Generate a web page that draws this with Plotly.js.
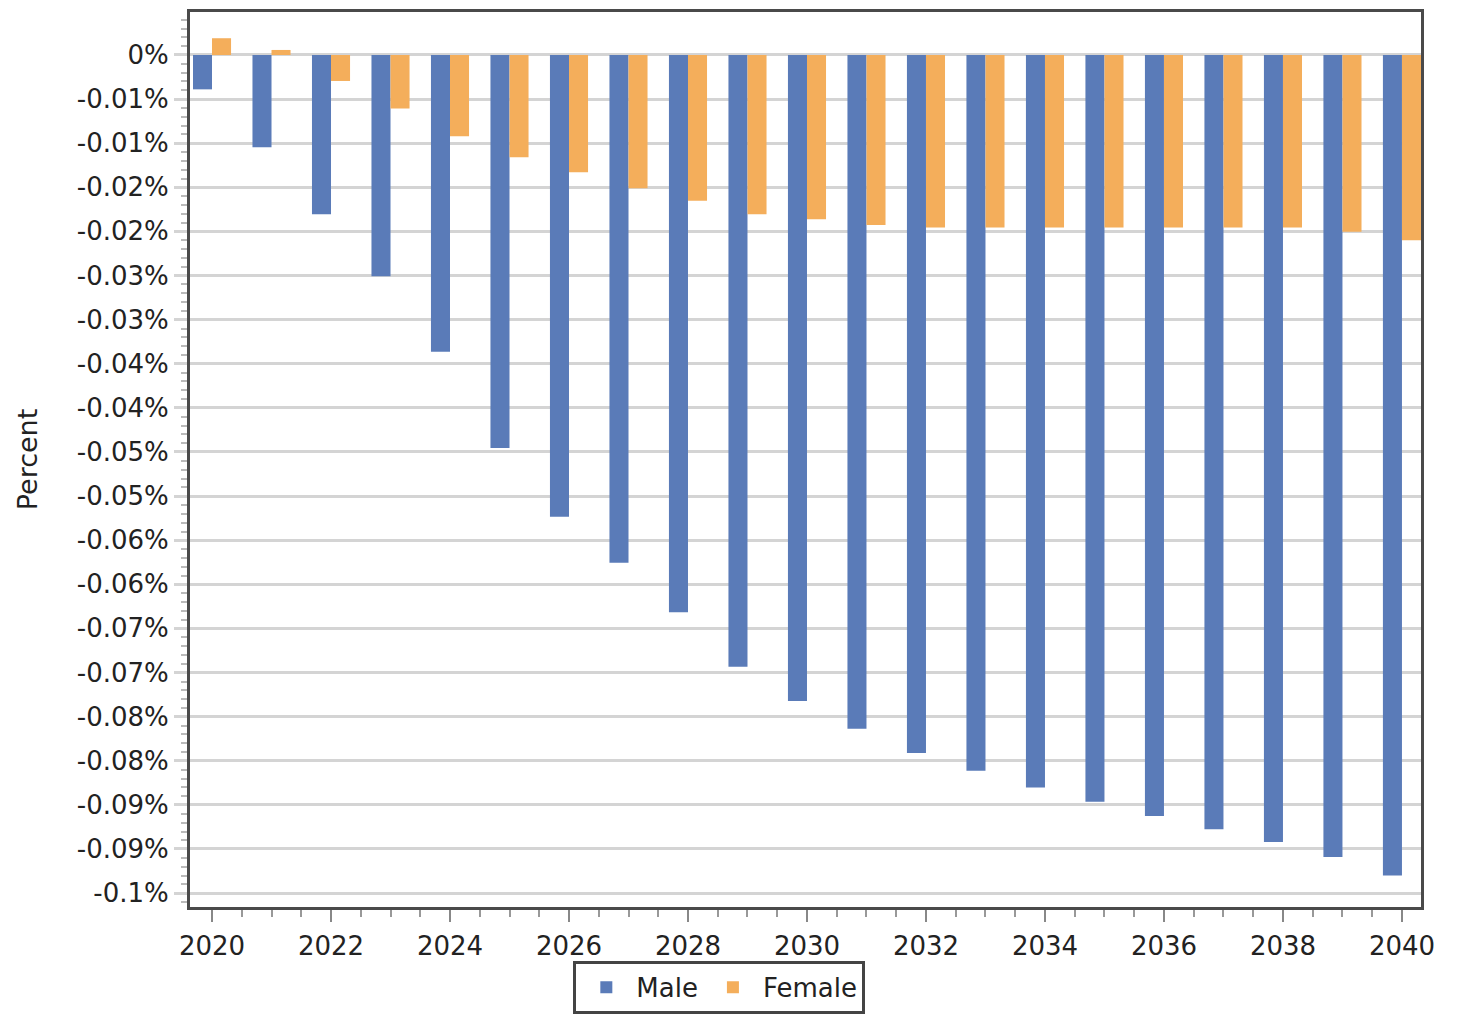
<!DOCTYPE html>
<html>
<head>
<meta charset="utf-8">
<script src="https://cdn.plot.ly/plotly-3.0.1.min.js"></script>
<style>
  body { margin: 0; background: #ffffff; }
  #chart { width: 1466px; height: 1020px; }
</style>
</head>
<body>
<div id="chart"></div>
<script>
// Data (percent units)
var years = [2020, 2021, 2022, 2023, 2024, 2025, 2026, 2027, 2028, 2029, 2030,
             2031, 2032, 2033, 2034, 2035, 2036, 2037, 2038, 2039, 2040];

var male = [-0.0041, -0.0110, -0.0190, -0.0264, -0.0354, -0.0469, -0.0551, -0.0606,
            -0.0665, -0.0730, -0.0771, -0.0804, -0.0833, -0.0854, -0.0874, -0.0891,
            -0.0908, -0.0924, -0.0939, -0.0957, -0.0979];

var female = [0.0020, 0.0006, -0.0031, -0.0064, -0.0097, -0.0122, -0.0140, -0.0159,
              -0.0174, -0.0190, -0.0196, -0.0203, -0.0206, -0.0206, -0.0206, -0.0206,
              -0.0206, -0.0206, -0.0206, -0.0211, -0.0221];

var y_tickvals = [0, -0.00526, -0.01053, -0.01579, -0.02105, -0.02632, -0.03158,
                  -0.03684, -0.04211, -0.04737, -0.05263, -0.05789, -0.06316,
                  -0.06842, -0.07368, -0.07895, -0.08421, -0.08947, -0.09474, -0.1];
var y_ticktext = ['0%', '-0.01%', '-0.01%', '-0.02%', '-0.02%', '-0.03%', '-0.03%',
                  '-0.04%', '-0.04%', '-0.05%', '-0.05%', '-0.06%', '-0.06%',
                  '-0.07%', '-0.07%', '-0.08%', '-0.08%', '-0.09%', '-0.09%', '-0.1%'];

var font_family = 'DejaVu Sans, Verdana, sans-serif';

var trace_male = {
  x: years,
  y: male,
  name: 'Male',
  type: 'bar',
  marker: {color: '#5a7bb8', line: {width: 0}},
};
var trace_female = {
  x: years,
  y: female,
  name: 'Female',
  type: 'bar',
  marker: {color: '#f4ae5b', line: {width: 0}},
};

var layout = {
  width: 1466,
  height: 1020,
  margin: {l: 190, r: 45, t: 12, b: 113},
  paper_bgcolor: '#ffffff',
  plot_bgcolor: '#ffffff',
  font: {family: font_family, size: 26, color: '#222222'},
  barmode: 'group',
  bargap: 0.36,
  bargroupgap: 0,
  showlegend: true,
  legend: {
    orientation: 'h',
    x: 0.43,
    xanchor: 'center',
    yref: 'container',
    y: 0.058,
    yanchor: 'top',
    bordercolor: '#444444',
    borderwidth: 3,
    bgcolor: '#ffffff',
    itemwidth: 50,
    font: {family: font_family, size: 26, color: '#222222'},
  },
  xaxis: {
    range: [2019.63, 2040.32],
    tickmode: 'linear',
    tick0: 2020,
    dtick: 2,
    ticks: 'outside',
    ticklen: 12,
    tickwidth: 2,
    tickcolor: '#888888',
    ticklabelstandoff: 2,
    showgrid: false,
    zeroline: false,
    showline: true,
    linecolor: '#4a4a4a',
    linewidth: 3,
    mirror: true,
    tickfont: {size: 26},
    minor: {tickmode: 'linear', tick0: 2020, dtick: 0.5, ticks: 'outside',
            ticklen: 7, tickwidth: 2, tickcolor: '#999999'},
  },
  yaxis: {
    range: [-0.10167, 0.00513],
    tickmode: 'array',
    tickvals: y_tickvals,
    ticktext: y_ticktext,
    ticks: 'outside',
    ticklen: 13,
    tickwidth: 3,
    tickcolor: '#d4d4d4',
    showgrid: true,
    gridcolor: '#d4d4d4',
    gridwidth: 3,
    zeroline: false,
    showline: true,
    linecolor: '#4a4a4a',
    linewidth: 3,
    mirror: true,
    tickfont: {size: 26},
    title: {text: 'Percent', font: {size: 27}, standoff: 32},
    minor: {tickmode: 'linear', tick0: 0, dtick: 0.001053, ticks: 'outside',
            ticklen: 6, tickwidth: 2, tickcolor: '#bbbbbb', showgrid: false},
  },
};

var config = {displayModeBar: false, staticPlot: true};

Plotly.newPlot('chart', [trace_male, trace_female], layout, config);
</script>
</body>
</html>
